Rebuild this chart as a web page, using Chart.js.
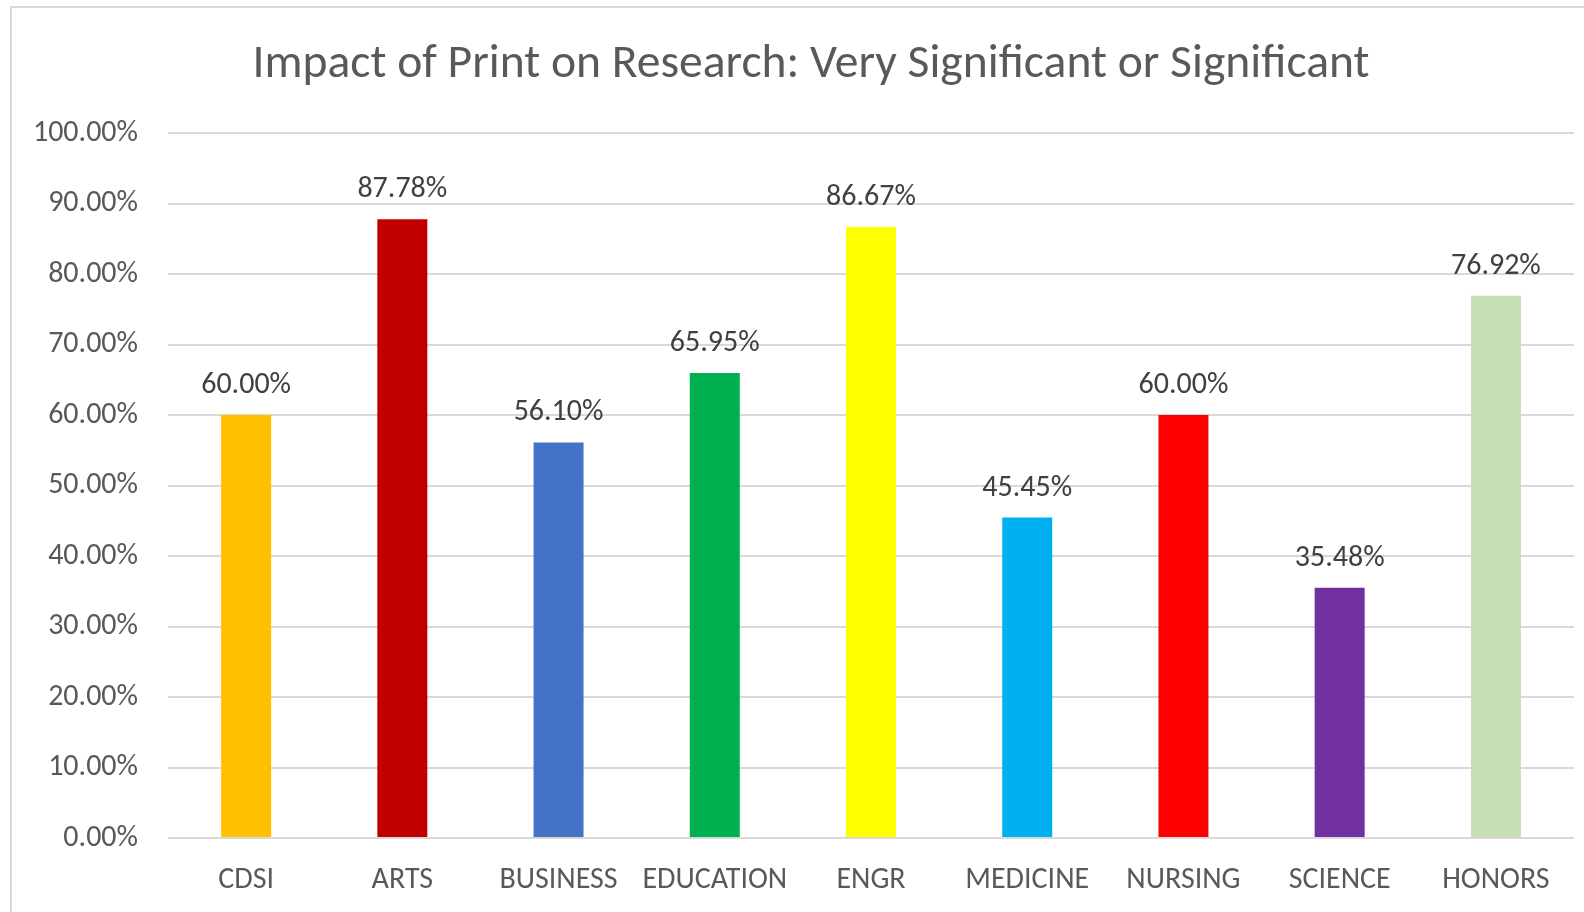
<!DOCTYPE html>
<html>
<head>
<meta charset="utf-8">
<script src="https://cdn.jsdelivr.net/npm/chart.js@4/dist/chart.umd.min.js"></script>
<style>
  html, body { margin: 0; padding: 0; background: #fff; }
  #wrap { position: relative; width: 1584px; height: 912px; overflow: hidden; }
  #frame { position: absolute; left: 10px; top: 6px; width: 1600px; height: 940px; border: 2px solid #d9d9d9; box-sizing: border-box; }
  #chart { position: absolute; left: 0; top: 0; }
</style>
</head>
<body>
<div id="wrap">
  <div id="frame"></div>
  <canvas id="chart" width="1584" height="912"></canvas>
</div>
<script>
  const categories = ['CDSI', 'ARTS', 'BUSINESS', 'EDUCATION', 'ENGR', 'MEDICINE', 'NURSING', 'SCIENCE', 'HONORS'];
  const values = [60.00, 87.78, 56.10, 65.95, 86.67, 45.45, 60.00, 35.48, 76.92];
  const barColors = ['#FFC000', '#C00000', '#4472C4', '#00B050', '#FFFF00', '#00B0F0', '#FF0000', '#7030A0', '#C5E0B4'];
  const titleText = 'Impact of Print on Research: Very Significant or Significant';

  const fontFamily = 'Carlito, Calibri, Lato, sans-serif';

  // chart title, centred on the outer frame rather than the canvas
  const frameTitle = {
    id: 'frameTitle',
    afterDraw(chart) {
      const ctx = chart.ctx;
      ctx.save();
      ctx.font = '47.6px ' + fontFamily;
      ctx.fillStyle = '#595959';
      ctx.textAlign = 'center';
      ctx.textBaseline = 'alphabetic';
      ctx.fillText(titleText, 811, 77);
      ctx.restore();
    },
  };

  // value labels above each bar
  const valueLabels = {
    id: 'valueLabels',
    afterDatasetsDraw(chart) {
      const ctx = chart.ctx;
      const meta = chart.getDatasetMeta(0);
      ctx.save();
      ctx.font = '30px ' + fontFamily;
      ctx.fillStyle = '#404040';
      ctx.textAlign = 'center';
      ctx.textBaseline = 'alphabetic';
      meta.data.forEach((bar, i) => {
        ctx.fillText(values[i].toFixed(2) + '%', bar.x, bar.y - 22);
      });
      ctx.restore();
    },
  };

  new Chart(document.getElementById('chart'), {
    type: 'bar',
    data: {
      labels: categories,
      datasets: [{
        data: values,
        backgroundColor: barColors,
        borderWidth: 0,
        categoryPercentage: 1,
        barPercentage: 0.32,
      }],
    },
    options: {
      responsive: false,
      animation: false,
      layout: { padding: { left: 0, right: 10, top: 133, bottom: 0 } },
      plugins: {
        legend: { display: false },
        tooltip: { enabled: false },
        title: { display: false },
      },
      scales: {
        x: {
          afterFit(scale) { scale.height = 74; },
          grid: { display: false, drawTicks: false },
          border: { display: false },
          ticks: {
            color: '#595959',
            padding: 24,
            maxRotation: 0,
            autoSkip: false,
            font: { family: fontFamily, size: 30 },
          },
        },
        y: {
          min: 0,
          max: 100,
          afterFit(scale) { scale.width = 168; },
          grid: { color: '#d9d9d9', lineWidth: 2, drawTicks: false },
          border: { display: false },
          ticks: {
            stepSize: 10,
            color: '#595959',
            padding: 30,
            font: { family: fontFamily, size: 30 },
            callback: (v) => v.toFixed(2) + '%',
          },
        },
      },
    },
    plugins: [valueLabels, frameTitle],
  });
</script>
</body>
</html>
